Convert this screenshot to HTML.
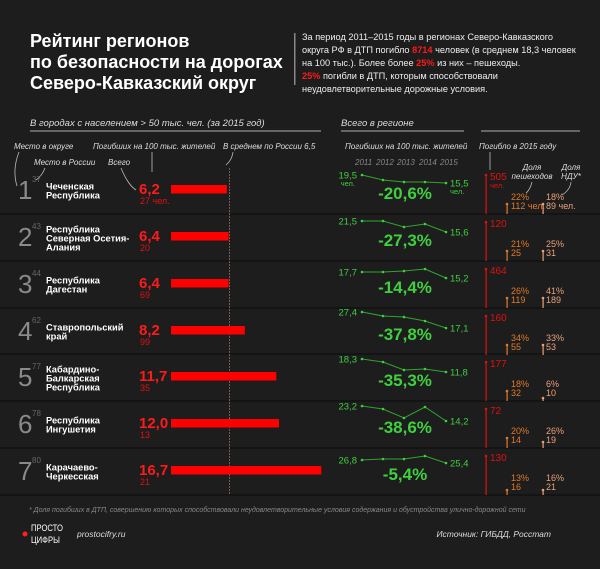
<!DOCTYPE html>
<html><head><meta charset="utf-8"><style>
body{margin:0;background:#1d1d1d;}
svg{display:block;font-family:"Liberation Sans","DejaVu Sans",sans-serif;}
.it{font-style:italic;fill:#ddd;font-size:8px}
.nm{font-weight:bold;fill:#fff;font-size:9.3px}
</style></head><body>
<svg width="600" height="569" viewBox="0 0 600 569" xmlns="http://www.w3.org/2000/svg">
<rect width="600" height="569" fill="#1d1d1d"/>
<g fill="#fff" font-weight="bold" font-size="18">
<text x="30" y="47">Рейтинг регионов</text>
<text x="30" y="68">по безопасности на дорогах</text>
<text x="30" y="89">Северо-Кавказский округ</text>
</g>
<rect x="294" y="33" width="1.5" height="52" fill="#888"/>
<g fill="#eee" font-size="9.2">
<text x="302" y="40">За период 2011–2015 годы в регионах Северо-Кавказского</text>
<text x="302" y="53">округа РФ в ДТП погибло <tspan fill="#ff1a1a" font-weight="bold">8714</tspan> человек (в среднем 18,3 человек</text>
<text x="302" y="66">на 100 тыс.). Более более <tspan fill="#ff1a1a" font-weight="bold">25%</tspan> из них – пешеходы.</text>
<text x="302" y="79"><tspan fill="#ff1a1a" font-weight="bold">25%</tspan> погибли в ДТП, которым способствовали</text>
<text x="302" y="92">неудовлетворительные дорожные условия.</text>
</g>
<text x="30" y="126" class="it" style="font-size:9.5px">В городах с населением &gt; 50 тыс. чел. (за 2015 год)</text>
<text x="341" y="126" class="it" style="font-size:9.5px">Всего в регионе</text>
<rect x="30" y="130" width="291" height="2" fill="#666"/>
<rect x="341" y="130" width="123" height="2" fill="#666"/>
<rect x="481" y="130" width="99" height="2" fill="#666"/>
<text x="14" y="149" class="it">Место в округе</text>
<text x="34" y="165" class="it">Место в России</text>
<text x="93" y="149" class="it">Погибших на 100 тыс. жителей</text>
<text x="108" y="165" class="it">Всего</text>
<text x="223" y="149" class="it">В среднем по России 6,5</text>
<text x="345" y="149" class="it">Погибших на 100 тыс. жителей</text>
<text x="479" y="149" class="it">Погибло в 2015 году</text>
<g><text x="355" y="165" class="it" style="fill:#888">2011</text><text x="376" y="165" class="it" style="fill:#888">2012</text><text x="397" y="165" class="it" style="fill:#888">2013</text><text x="419" y="165" class="it" style="fill:#888">2014</text><text x="440" y="165" class="it" style="fill:#888">2015</text></g>
<text x="532" y="170" class="it" text-anchor="middle">Доля</text>
<text x="532" y="179" class="it" text-anchor="middle">пешеходов</text>
<text x="571" y="170" class="it" text-anchor="middle">Доля</text>
<text x="571" y="179" class="it" text-anchor="middle">НДУ*</text>
<g fill="none" stroke="#bbb" stroke-width="0.8">
<path d="M19 152 Q12 170 17 186"/><path d="M45 168 Q42 176 36 180"/>
<path d="M152 152 L152 172"/><path d="M121 168 Q128 185 136 190"/>
<path d="M233 152 Q232 160 226 165"/><path d="M490 152 L490 170"/>
<path d="M532 182 Q530 190 526 193"/><path d="M571 182 Q570 190 562 195"/>
</g>
<g fill="#141414">
<rect x="0" y="213" width="600" height="2"/><rect x="0" y="260" width="600" height="2"/><rect x="0" y="307" width="600" height="2"/><rect x="0" y="353" width="600" height="2"/><rect x="0" y="400" width="600" height="2"/><rect x="0" y="447" width="600" height="2"/><rect x="0" y="494" width="600" height="2"/>
</g>
<line x1="229.5" y1="168" x2="229.5" y2="494" stroke="#7a5a4a" stroke-width="1" stroke-dasharray="2,1"/>
<g id="rows"></g>
<text x="29" y="512" class="it" style="fill:#888;font-size:7px">* Доля погибших в ДТП, совершению которых способствовали неудовлетворительные условия содержания и обустройства улично-дорожной сети</text>
<circle cx="25" cy="534" r="2.5" fill="#ff2020"/>
<text x="31" y="531" fill="#fff" font-size="9" transform="scale(0.85,1) translate(5.5,0)">ПРОСТО</text>
<text x="31" y="543" fill="#fff" font-size="9" transform="scale(0.85,1) translate(5.5,0)">ЦИФРЫ</text>
<text x="77" y="537" class="it" style="font-size:8.5px">prostocifry.ru</text>
<text x="551" y="537" class="it" text-anchor="end" style="font-size:8.5px">Источник: ГИБДД, Росстат</text>
</svg>
<script>
const R=[
[["Чеченская","Республика"],37,"6,2","27 чел.",6.2,"19,5","15,5",[8,13,15,15,16],"-20,6%","505","22%","112 чел.","18%","89 чел.",true],
[["Республика","Северная Осетия-","Алания"],43,"6,4","20",6.4,"21,5","15,6",[7,7,13,10,18],"-27,3%","120","21%","25","25%","31"],
[["Республика","Дагестан"],44,"6,4","69",6.4,"17,7","15,2",[11,11,10,8,17],"-14,4%","464","26%","119","41%","189"],
[["Ставропольский","край"],62,"8,2","99",8.2,"27,4","17,1",[4,8,9,13,20],"-37,8%","160","34%","55","33%","53"],
[["Кабардино-","Балкарская","Республика"],77,"11,7","35",11.7,"18,3","11,8",[5,8,16,15,18],"-35,3%","177","18%","32","6%","10"],
[["Республика","Ингушетия"],78,"12,0","13",12.0,"23,2","14,2",[5,8,17,6,20],"-38,6%","72","20%","14","26%","19"],
[["Карачаево-","Черкесская"],80,"16,7","21",16.7,"26,8","25,4",[12,11,11,8,15],"-5,4%","130","13%","16","16%","21"]];
const tops=[167,214,261,308,354,401,448];
let s="";const X=[362,383,404,425,446];
R.forEach((r,i)=>{const t=tops[i];
s+=`<text x="18" y="${t+32}" font-size="26" font-weight="300" fill="#8a8a8a">${i+1}</text>`;
s+=`<text x="32" y="${t+15}" font-size="8" fill="#666">${r[1]}</text>`;
const st=r[0].length==3?t+15:t+19;
r[0].forEach((n,j)=>s+=`<text x="46" y="${st+j*9+3.5}" class="nm">${n}</text>`);
s+=`<text x="139" y="${t+27}" font-size="15" font-weight="bold" fill="#ff1a1a">${r[2]}</text>`;
s+=`<text x="140" y="${t+37}" font-size="9" fill="#e01010">${r[3]}</text>`;
s+=`<rect x="171" y="${t+18}" width="${r[4]*9}" height="8.5" fill="#ff0000"/>`;
const p=r[7];s+=`<polyline fill="none" stroke="#2fa52f" stroke-width="1" points="${X.map((x,k)=>x+','+(t+p[k])).join(' ')}"/>`;
X.forEach((x,k)=>s+=`<circle cx="${x}" cy="${t+p[k]}" r="1.3" fill="#3fcf3f"/>`);
s+=`<text x="357" y="${t+p[0]+3.5}" text-anchor="end" font-size="9.5" fill="#3fcf3f">${r[5]}</text>`;
s+=`<text x="450" y="${t+p[4]+3.5}" font-size="9.5" fill="#3fcf3f">${r[6]}</text>`;
if(r[14]){s+=`<text x="355" y="${t+p[0]+11}" text-anchor="end" font-size="7.5" fill="#3fcf3f">чел.</text><text x="450" y="${t+p[4]+11}" font-size="7.5" fill="#3fcf3f">чел.</text>`;}
s+=`<text x="405" y="${t+32}" text-anchor="middle" font-size="17" font-weight="bold" fill="#3fcf3f">${r[8]}</text>`;
s+=`<rect x="485.5" y="${t+8}" width="1.2" height="${47-8}" fill="#e01010"/><circle cx="486" cy="${t+8}" r="1.3" fill="#e01010"/>`;
s+=`<text x="490" y="${t+13}" font-size="10" fill="#e01010">${r[9]}</text>`;
if(r[14])s+=`<text x="490" y="${t+21}" font-size="7.5" fill="#e01010">чел.</text>`;
const o1=i==6?42:37,o2=i==4?44:(i==6?42:(i==5?41:37));
s+=`<rect x="506.5" y="${t+o1}" width="1.2" height="${47-o1}" fill="#e07a2a"/><circle cx="507" cy="${t+o1}" r="1.3" fill="#e07a2a"/>`;
s+=`<rect x="542.5" y="${t+o2}" width="1.2" height="${47-o2}" fill="#e8a27a"/><circle cx="543" cy="${t+o2}" r="1.3" fill="#e8a27a"/>`;
s+=`<text x="511" y="${t+33}" font-size="9" fill="#e07a2a">${r[10]}</text><text x="511" y="${t+42}" font-size="9" fill="#e07a2a">${r[11]}</text>`;
s+=`<text x="546" y="${t+33}" font-size="9" fill="#e8a27a">${r[12]}</text><text x="546" y="${t+42}" font-size="9" fill="#e8a27a">${r[13]}</text>`;
});
document.getElementById("rows").innerHTML=s;
</script>
</body></html>
